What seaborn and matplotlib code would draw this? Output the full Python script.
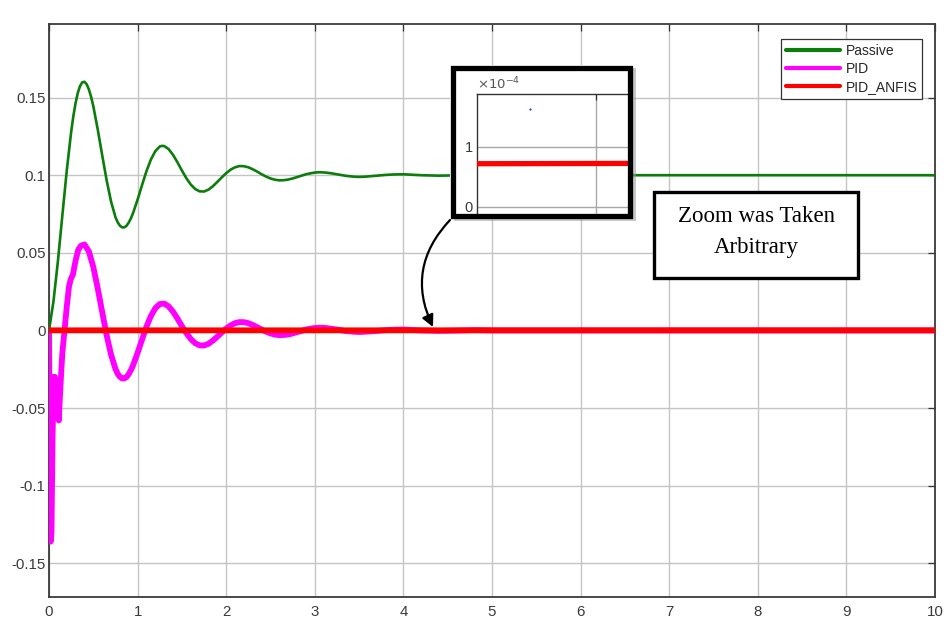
import matplotlib
matplotlib.use("Agg")
import matplotlib.pyplot as plt
import seaborn as sns
from matplotlib.patches import Rectangle, FancyArrowPatch

# Body displacement (m) against time (s) for the three suspension set-ups
passive_t = [0.00, 0.05, 0.10, 0.15, 0.20, 0.25, 0.275, 0.30, 0.325, 0.35,
             0.375, 0.40, 0.425, 0.45, 0.475,
             0.50, 0.55, 0.60, 0.65, 0.70, 0.75, 0.775, 0.80, 0.825, 0.85,
             0.875, 0.90, 0.925, 0.95,
             1.00, 1.05, 1.10, 1.15, 1.20, 1.25, 1.275, 1.30, 1.35, 1.40, 1.45,
             1.50, 1.55, 1.60, 1.65, 1.70, 1.75, 1.80, 1.85, 1.90, 1.95,
             2.00, 2.05, 2.10, 2.15, 2.20, 2.25, 2.30, 2.35, 2.40, 2.45,
             2.50, 2.55, 2.60, 2.65, 2.70, 2.75, 2.80, 2.85, 2.90, 2.95,
             3.00, 3.05, 3.10, 3.15, 3.20, 3.25, 3.30, 3.35, 3.40, 3.45,
             3.50, 3.55, 3.60, 3.70, 3.80, 3.90, 4.00, 4.20, 4.40, 4.60,
             4.80, 5.00, 6.00, 7.00, 8.00, 9.00, 10.00]
passive_y = [0.0000, 0.0185, 0.0443, 0.0737, 0.1027, 0.1278, 0.1381, 0.1465, 0.1530, 0.1574,
             0.1598, 0.1602, 0.1586, 0.1553, 0.1505,
             0.1445, 0.1295, 0.1130, 0.0969, 0.0831, 0.0730, 0.0697, 0.0675, 0.0664, 0.0664,
             0.0674, 0.0695, 0.0723, 0.0758,
             0.0843, 0.0936, 0.1026, 0.1101, 0.1155, 0.1185, 0.1189, 0.1188, 0.1168, 0.1131, 0.1083,
             0.1030, 0.0981, 0.0940, 0.0911, 0.0896, 0.0895, 0.0907, 0.0929, 0.0957, 0.0986,
             0.1013, 0.1036, 0.1051, 0.1059, 0.1058, 0.1051, 0.1038, 0.1023, 0.1006, 0.0991,
             0.0979, 0.0971, 0.0967, 0.0968, 0.0972, 0.0979, 0.0988, 0.0997, 0.1006, 0.1012,
             0.1017, 0.1019, 0.1018, 0.1015, 0.1011, 0.1006, 0.1001, 0.0996, 0.0993, 0.0990,
             0.0989, 0.0990, 0.0992, 0.0997, 0.1002, 0.1005, 0.1006, 0.1000, 0.0997, 0.0999,
             0.1002, 0.1000, 0.1000, 0.1000, 0.1000, 0.1000, 0.1000]

pid_t = [0.000, 0.008, 0.018, 0.028, 0.040, 0.052, 0.060, 0.068, 0.080, 0.095,
         0.110, 0.130, 0.150, 0.175, 0.200, 0.225, 0.245, 0.270, 0.300, 0.330,
         0.360, 0.40, 0.45, 0.50, 0.55, 0.60, 0.65, 0.70, 0.75, 0.775, 0.80,
         0.825, 0.85, 0.875, 0.90, 0.925, 0.95, 1.00, 1.05, 1.10, 1.15, 1.20, 1.25, 1.30,
         1.35, 1.40, 1.45, 1.50, 1.55, 1.60, 1.65, 1.70, 1.75, 1.80,
         1.85, 1.90, 1.95, 2.00, 2.05, 2.10, 2.15, 2.20, 2.25, 2.30,
         2.35, 2.40, 2.45, 2.50, 2.55, 2.60, 2.65, 2.70, 2.75, 2.80,
         2.85, 2.90, 2.95, 3.00, 3.05, 3.10, 3.15, 3.20, 3.25, 3.30,
         3.35, 3.40, 3.45, 3.50, 3.55, 3.60, 3.70, 3.80, 3.90, 4.00,
         4.20, 4.40, 4.60, 4.80, 5.00, 6.00, 7.00, 8.00, 9.00, 10.00]
pid_y = [0.0000, -0.0700, -0.1360, -0.1300, -0.0700, -0.0300, -0.0450, -0.0300, -0.0550, -0.0400,
         -0.0580, -0.0350, -0.0150, 0.0000, 0.0150, 0.0280, 0.0330, 0.0360, 0.0450, 0.0520,
         0.0545, 0.0554, 0.0509, 0.0409, 0.0271, 0.0120, -0.0029, -0.0155, -0.0248, -0.0279, -0.0299,
         -0.0309, -0.0309, -0.0300, -0.0281, -0.0255, -0.0223, -0.0144, -0.0059, 0.0024, 0.0093, 0.0143, 0.0170, 0.0173,
         0.0155, 0.0121, 0.0076, 0.0028, -0.0017, -0.0055, -0.0082, -0.0096, -0.0097, -0.0086,
         -0.0065, -0.0040, -0.0013, 0.0012, 0.0033, 0.0047, 0.0054, 0.0053, 0.0047, 0.0035,
         0.0021, 0.0006, -0.0008, -0.0019, -0.0027, -0.0030, -0.0029, -0.0026, -0.0019, -0.0011,
         -0.0003, 0.0006, 0.0011, 0.0016, 0.0017, 0.0017, 0.0014, 0.0010, 0.0006, 0.0001,
         -0.0004, -0.0006, -0.0009, -0.0010, -0.0009, -0.0007, -0.0003, 0.0002, 0.0005, 0.0006,
         0.0000, -0.0003, -0.0001, 0.0002, 0.0000, 0.0000, 0.0000, 0.0000, 0.0000, 0.0000]

anfis_t = [0.0, 2.0, 4.0, 6.0, 8.0, 10.0]
anfis_y = [7.0e-5, 7.1e-5, 7.2e-5, 7.3e-5, 7.3e-5, 7.3e-5]

# single stray sample visible inside the zoom window
dot_t = [4.57]
dot_y = [1.63e-4]

x_ticks = [0, 1, 2, 3, 4, 5, 6, 7, 8, 9, 10]
y_ticks = [-0.15, -0.1, -0.05, 0, 0.05, 0.1, 0.15]
y_tick_labels = ["-0.15", "-0.1", "-0.05", "0", "0.05", "0.1", "0.15"]

sns.set_style("white")
plt.rcParams["font.family"] = ["Liberation Sans", "DejaVu Sans"]

W, H = 946, 623
def fx(x):
    return x / W
def fy(y):
    return 1 - y / H

fig = plt.figure(figsize=(W / 100, H / 100), dpi=100)
ax = fig.add_axes([fx(49), fy(597), (935 - 49) / W, (597 - 24) / H])

sns.lineplot(x=passive_t, y=passive_y, ax=ax, color="#0a7d0a", lw=1.9,
             label="Passive", estimator=None, sort=False, zorder=3)
sns.lineplot(x=pid_t, y=pid_y, ax=ax, color="#ff00ff", lw=4.2,
             label="PID", estimator=None, sort=False, zorder=3)
sns.lineplot(x=anfis_t, y=anfis_y, ax=ax, color="#ff0000", lw=4.2,
             label="PID_ANFIS", estimator=None, sort=False, zorder=4)

ax.set_xlim(0, 10)
ax.set_ylim(-0.1717, 0.1974)
ax.set_xticks(x_ticks)
ax.set_xticklabels([str(v) for v in x_ticks])
ax.set_yticks(y_ticks)
ax.set_yticklabels(y_tick_labels)
ax.set_xlabel("")
ax.set_ylabel("")
ax.grid(True, color="#c4c4c4", lw=1.0)
ax.tick_params(direction="in", length=5, width=0.9, color="#333333",
               labelcolor="#3a3a3a", labelsize=10.8, top=True, right=True)
ax.tick_params(axis="x", pad=6)
ax.tick_params(axis="y", pad=2.5)
for sp in ax.spines.values():
    sp.set_color("#3a3a3a")
    sp.set_linewidth(1.3)

leg = ax.legend(loc="upper right", bbox_to_anchor=(fx(922), fy(39)),
                bbox_transform=fig.transFigure, borderaxespad=0,
                frameon=True, fancybox=False, framealpha=1, fontsize=10,
                handlelength=3.9, handletextpad=0.4, borderpad=0.35,
                labelspacing=0.3)
leg.get_frame().set_edgecolor("#333333")
leg.get_frame().set_linewidth(0.9)
for line in leg.get_lines():
    line.set_linewidth(3.0)

# zoom window with its framed panel
fig.add_artist(Rectangle((fx(454), fy(221)), (632 - 450) / W, (218 - 65) / H,
                         transform=fig.transFigure, facecolor="#9a9a9a",
                         edgecolor="none", alpha=0.55, zorder=5))
fig.add_artist(Rectangle((fx(450), fy(218)), (632 - 450) / W, (218 - 65) / H,
                         transform=fig.transFigure, facecolor="white",
                         edgecolor="none", zorder=6))

ax_in = fig.add_axes([fx(477), fy(216), (629 - 477) / W, (216 - 94) / H])
ax_in.set_zorder(7)
sns.lineplot(x=anfis_t, y=anfis_y, ax=ax_in, color="#ff0000", lw=3.8,
             estimator=None, sort=False, zorder=3)
ax_in.plot(dot_t, dot_y, "o", color="#3030ff", ms=1.6, mew=0, zorder=4)
ax_in.set_xlim(4.22, 5.22)
ax_in.set_ylim(-0.15e-4, 1.883e-4)
ax_in.set_xticks([5.0])
ax_in.set_xticklabels([])
ax_in.set_yticks([0, 1e-4])
ax_in.set_yticklabels(["0", "1"])
ax_in.set_xlabel("")
ax_in.set_ylabel("")
ax_in.grid(True, color="#a8a8a8", lw=1.0)
ax_in.tick_params(direction="in", length=4, width=0.9, color="#333333",
                  labelcolor="#3a3a3a", labelsize=10.5, top=True, pad=3)
for sp in ax_in.spines.values():
    sp.set_color("#333333")
    sp.set_linewidth(1.0)

fig.text(fx(477), fy(84), r"$\times10^{-4}$", fontsize=9.5, color="#555555",
         ha="left", va="center", zorder=8)

fig.add_artist(Rectangle((fx(452.5), fy(215.5)), (629.5 - 452.5) / W, (215.5 - 67.5) / H,
                         transform=fig.transFigure, facecolor="none",
                         edgecolor="black", lw=3.8, zorder=9))

# curved pointer from the zoom window down to the ANFIS trace
fig.add_artist(FancyArrowPatch((fx(450), fy(220)), (fx(433), fy(327)),
                               transform=fig.transFigure,
                               connectionstyle="arc3,rad=0.34",
                               arrowstyle="-|>,head_length=7,head_width=3.5",
                               lw=1.6, color="black", shrinkA=0, shrinkB=0,
                               zorder=10))

# annotation box
fig.add_artist(Rectangle((fx(654), fy(278)), (858 - 654) / W, (278 - 192) / H,
                         transform=fig.transFigure, facecolor="white",
                         edgecolor="black", lw=2.4, zorder=9))
fig.text(fx(756), fy(217), "Zoom was Taken", family=["Liberation Serif", "DejaVu Serif"],
         fontsize=16.5, ha="center", va="center", color="black", zorder=10)
fig.text(fx(756), fy(247), "Arbitrary", family=["Liberation Serif", "DejaVu Serif"],
         fontsize=16.5, ha="center", va="center", color="black", zorder=10)

fig.savefig("out.png", dpi=100)
